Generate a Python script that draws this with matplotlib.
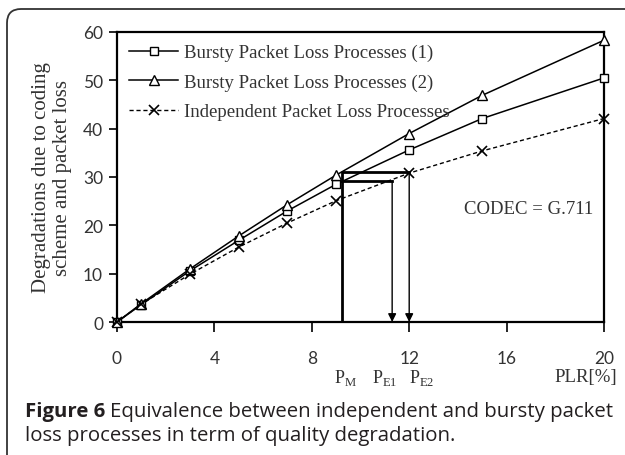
import matplotlib
matplotlib.use("Agg")
import matplotlib.pyplot as plt
from matplotlib.patches import FancyBboxPatch
from matplotlib.transforms import IdentityTransform

# packet loss ratio [%]
plr = [0, 1, 3, 5, 7, 9, 12, 15, 20]

# degradations
bursty1 = [0, 3.6, 10.6, 16.9, 23.0, 28.5, 35.6, 42.1, 50.5]
bursty2 = [0, 3.8, 11.0, 17.8, 24.3, 30.4, 39.0, 46.9, 58.3]
indep = [0, 3.7, 9.9, 15.5, 20.5, 25.1, 30.8, 35.4, 42.1]

labels = ['Bursty Packet Loss Processes (1)',
          'Bursty Packet Loss Processes (2)',
          'Independent Packet Loss Processes']

# equivalence points
p_m = 9.25
p_e1 = 11.3
p_e2 = 12.0
d_e1 = 29.2
d_e2 = 31.0

xticks = [0, 4, 8, 12, 16, 20]
yticks = [0, 10, 20, 30, 40, 50, 60]

serif = 'Liberation Serif'
sans = 'Lato'
capfont = 'Open Sans'
grey = '#333333'

fig = plt.figure(figsize=(6.25, 4.56), dpi=100)

# rounded frame round the whole figure (pixel coordinates)
frame = FancyBboxPatch((7, -30), 640, 456 - 10 + 30, transform=IdentityTransform(),
                       boxstyle='round,pad=0,rounding_size=14',
                       fc='none', ec='#333333', lw=1.3)
fig.patches.append(frame)

ax = fig.add_axes([117 / 625, 1 - 323 / 456, (604 - 117) / 625, (323 - 33) / 456])

ax.plot(plr, bursty1, '-', color='black', lw=1.1, marker='s', ms=5.5,
        mfc='white', mec='black', mew=1.0, label=labels[0], zorder=4, clip_on=False)
ax.plot(plr, bursty2, '-', color='black', lw=1.1, marker='^', ms=6.5,
        mfc='white', mec='black', mew=1.0, label=labels[1], zorder=4, clip_on=False)
ax.plot(plr, indep, '--', color='black', lw=1.0, dashes=(3, 2), marker='x', ms=7,
        mec='black', mew=1.2, label=labels[2], zorder=4, clip_on=False)

# equivalence construction
ax.plot([p_m, p_m, p_e2], [0, d_e2, d_e2], color='black', lw=2.0, zorder=3)
ax.plot([p_m, p_e1], [d_e1, d_e1], color='black', lw=2.0, zorder=3)
for px, py in [(p_e1, d_e1), (p_e2, d_e2)]:
    ax.annotate('', xy=(px, 0), xytext=(px, py),
                arrowprops=dict(arrowstyle='-|>', color='black', lw=1.0,
                                mutation_scale=12, shrinkA=0, shrinkB=0))

ax.set_xlim(0, 20)
ax.set_ylim(0, 60)
ax.set_xticks(xticks)
ax.set_yticks(yticks)
ax.tick_params(axis='x', direction='out', length=7, width=1.2, pad=13,
               labelsize=12.5, labelcolor=grey)
ax.tick_params(axis='y', direction='out', length=6, width=1.2, pad=4,
               labelsize=12.5, labelcolor=grey)
for lab in ax.get_xticklabels() + ax.get_yticklabels():
    lab.set_fontfamily(sans)
for s in ax.spines.values():
    s.set_linewidth(1.6)

ax.set_ylabel('Degradations due to coding\nscheme and packet loss',
              fontfamily=serif, fontsize=15, color=grey, labelpad=8,
              linespacing=1.15)

leg = ax.legend(loc='upper left', frameon=False, handlelength=2.6,
                handletextpad=0.3, labelspacing=0.65, borderaxespad=0.1,
                borderpad=0.55, prop={'family': serif, 'size': 13.5})
for t in leg.get_texts():
    t.set_color(grey)

ax.text(16.9, 23.4, 'CODEC = G.711', fontfamily=serif, fontsize=13.5,
        color=grey, ha='center', va='center')

# labels for the marked points under the x axis
under = [(9.4, r'P$_\mathregular{M}$'), (11.0, r'P$_\mathregular{E1}$'),
         (12.5, r'P$_\mathregular{E2}$')]
for xv, s in under:
    ax.text(xv, -11.3, s, fontfamily=serif, fontsize=13, color=grey,
            ha='center', va='center')
ax.text(20.55, -11.3, 'PLR[%]', fontfamily=serif, fontsize=13.5, color=grey,
        ha='right', va='center')

cap1 = fig.text(25 / 625, 1 - 412 / 456, 'Figure 6', fontfamily=capfont,
                fontweight='bold', fontsize=14.7, color='#231f20', va='center')
fig.canvas.draw()
bb = cap1.get_window_extent()
fig.text((bb.x1 + 5) / 625, 1 - 412 / 456,
         'Equivalence between independent and bursty packet',
         fontfamily=capfont, fontsize=14.7, color='#231f20', va='center')
fig.text(25 / 625, 1 - 436 / 456, 'loss processes in term of quality degradation.',
         fontfamily=capfont, fontsize=14.7, color='#231f20', va='center')

fig.savefig('out.png', dpi=100)
